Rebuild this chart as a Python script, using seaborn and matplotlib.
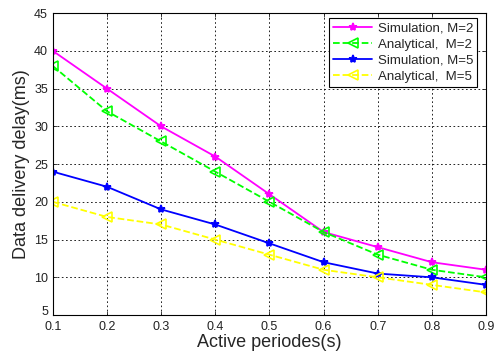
import matplotlib
matplotlib.use("Agg")
import matplotlib.pyplot as plt
import matplotlib.transforms as mtransforms
import seaborn as sns
import pandas as pd

x = [0.1, 0.2, 0.3, 0.4, 0.5, 0.6, 0.7, 0.8, 0.9]
sim_m2 = [40, 35, 30, 26, 21, 16, 14, 12, 11]
ana_m2 = [38, 32, 28, 24, 20, 16, 13, 11, 10]
sim_m5 = [24, 22, 19, 17, 14.5, 12, 10.5, 10, 9]
ana_m5 = [20, 18, 17, 15, 13, 11, 10, 9, 8]
labels = ["Simulation, M=2", "Analytical,  M=2", "Simulation, M=5", "Analytical,  M=5"]
colors = ["#ff00ff", "#00ff00", "#0000ff", "#ffff00"]

sns.set_style("white")
plt.rcParams['font.family'] = ['Liberation Sans', 'DejaVu Sans']

fig = plt.figure(figsize=(4.94, 3.56), dpi=100)
ax = fig.add_axes([0.107, 0.115, 0.877, 0.848])

series = [sim_m2, ana_m2, sim_m5, ana_m5]
dashed = [False, True, False, True]
for vals, lab, col, dsh in zip(series, labels, colors, dashed):
    df = pd.DataFrame({"x": x, "y": vals})
    if dsh:
        kw = dict(linestyle='--', marker='<', markersize=7, markerfacecolor='none',
                  markeredgecolor=col, markeredgewidth=1.2)
    else:
        kw = dict(linestyle='-', marker='*', markersize=6, markerfacecolor=col,
                  markeredgecolor=col, markeredgewidth=1.2)
    sns.lineplot(data=df, x="x", y="y", ax=ax, color=col, label=lab, linewidth=1.3, **kw)

ax.set_xlim(0.1, 0.9)
ax.set_ylim(5, 45)
ax.set_xticks(x)
ax.set_xticklabels([f"{v:.1f}" for v in x])
ax.set_yticks(range(5, 46, 5))
ax.tick_params(direction='in', length=3, labelsize=9, colors='#222222', top=True, right=True,
               bottom=True, left=True, width=0.6)
ax.tick_params(axis='x', pad=4)
# nudge the bottom y tick label up slightly (as in the reference)
lbl5 = ax.get_yticklabels()[0]
lbl5.set_transform(lbl5.get_transform() + mtransforms.ScaledTranslation(0, 3 / 72, fig.dpi_scale_trans))
for s in ax.spines.values():
    s.set_color('black')
    s.set_linewidth(0.8)
ax.grid(True, linestyle=(0, (2, 3)), color='black', linewidth=0.6)
ax.set_xlabel("Active periodes(s)", fontsize=13, labelpad=1)
ax.set_ylabel("Data delivery delay(ms)", fontsize=13, labelpad=3)

leg = ax.legend(loc='upper right', bbox_to_anchor=(0.979, 0.983), fontsize=9.5,
                frameon=True, fancybox=False, edgecolor='black', framealpha=1,
                handlelength=3.0, borderpad=0.3, labelspacing=0.3, handletextpad=0.4,
                borderaxespad=0)
leg.get_frame().set_linewidth(0.8)

fig.savefig("out.png", dpi=100)
